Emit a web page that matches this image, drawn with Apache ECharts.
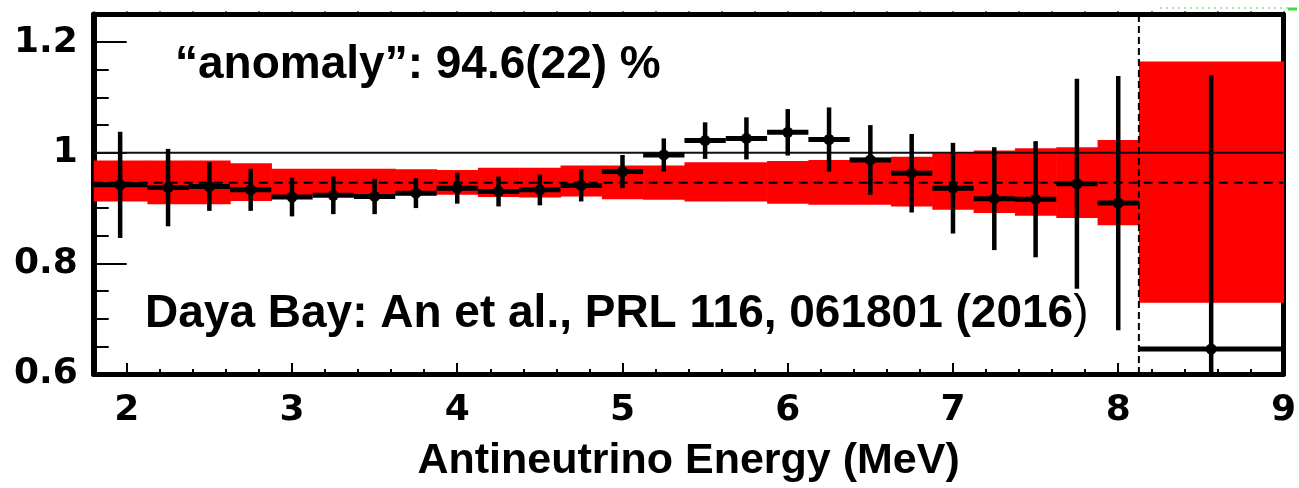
<!DOCTYPE html>
<html>
<head>
<meta charset="utf-8">
<script src="https://cdn.jsdelivr.net/npm/echarts@6/dist/echarts.min.js"></script>
<style>
html, body { margin: 0; padding: 0; background: #fff; }
#chart { width: 1299px; height: 488px; }
</style>
</head>
<body>
<div id="chart"></div>
<script>
// Energy bins (MeV): lower and upper edges
const binLow  = [1.8, 2.125, 2.375, 2.625, 2.875, 3.125, 3.375, 3.625, 3.875, 4.125, 4.375, 4.625, 4.875,
                 5.125, 5.375, 5.625, 5.875, 6.125, 6.375, 6.625, 6.875, 7.125, 7.375, 7.625, 7.875, 8.125];
const binHigh = [2.125, 2.375, 2.625, 2.875, 3.125, 3.375, 3.625, 3.875, 4.125, 4.375, 4.625, 4.875, 5.125,
                 5.375, 5.625, 5.875, 6.125, 6.375, 6.625, 6.875, 7.125, 7.375, 7.625, 7.875, 8.125, 9.0];
// Bin centres (MeV)
const energy  = [1.96, 2.25, 2.5, 2.75, 3.0, 3.25, 3.5, 3.75, 4.0, 4.25, 4.5, 4.75, 5.0,
                 5.25, 5.5, 5.75, 6.0, 6.25, 6.5, 6.75, 7.0, 7.25, 7.5, 7.75, 8.0, 8.5625];
// Measured / predicted ratio and its uncertainty
const ratio    = [0.942, 0.937, 0.939, 0.933, 0.920, 0.923, 0.921, 0.927, 0.936, 0.930, 0.933, 0.941, 0.966,
                  0.996, 1.022, 1.026, 1.037, 1.024, 0.987, 0.963, 0.936, 0.917, 0.916, 0.944, 0.909, 0.645];
const ratioErr = [0.096, 0.070, 0.044, 0.038, 0.035, 0.034, 0.032, 0.027, 0.028, 0.027, 0.028, 0.029, 0.030,
                  0.030, 0.033, 0.038, 0.042, 0.058, 0.063, 0.071, 0.082, 0.093, 0.105, 0.190, 0.230, 0.495];
// Model uncertainty band per bin
const bandHigh = [0.986, 0.986, 0.986, 0.981, 0.971, 0.971, 0.971, 0.970, 0.969, 0.973, 0.973, 0.977, 0.977,
                  0.977, 0.983, 0.983, 0.985, 0.987, 0.991, 0.993, 0.999, 1.004, 1.008, 1.010, 1.023, 1.165];
const bandLow  = [0.912, 0.907, 0.907, 0.913, 0.923, 0.923, 0.923, 0.923, 0.924, 0.920, 0.919, 0.921, 0.916,
                  0.915, 0.912, 0.912, 0.908, 0.906, 0.906, 0.903, 0.897, 0.891, 0.886, 0.882, 0.869, 0.729];
// Reference levels
const unity = 1.0;
const anomalyRatio = 0.946;
const splitEnergy = 8.125;
// Axis ticks
const xTickLabels = [2, 3, 4, 5, 6, 7, 8, 9];
const yTickLabels = [0.6, 0.8, 1.0, 1.2];
const xRange = [1.8, 9];
const yRange = [0.6, 1.25];

const xMinorTicks = [];
for (let k = 20; k <= 90; k += 2) xMinorTicks.push(k / 10);
const yMinorTicks = [];
for (let k = 12; k <= 25; k += 1) yMinorTicks.push(k / 20);

const bandData = binLow.map((lo, i) => [lo, binHigh[i], bandLow[i], bandHigh[i]]);
const pointData = energy.map((e, i) => [e, ratio[i], ratioErr[i], binLow[i], binHigh[i]]);

const chart = echarts.init(document.getElementById('chart'), null, { renderer: 'canvas' });

const boldSans = '"Liberation Sans", Arial, Helvetica, sans-serif';
const tickFont = '"DejaVu Sans", sans-serif';

const frameAxis = (extra) => Object.assign({
  type: 'value', min: xRange[0], max: xRange[1],
  splitLine: { show: false }, axisLabel: { show: false }
}, extra);

const option = {
  animation: false,
  backgroundColor: '#fff',
  grid: { left: 93.7, right: 5, top: 14.5, bottom: 110.3, containLabel: false },
  xAxis: [
    frameAxis({
      position: 'bottom',
      axisLine: { show: true, onZero: false, lineStyle: { color: '#000', width: 5 } },
      axisTick: { show: true, inside: true, length: 11, customValues: xTickLabels, lineStyle: { color: '#000', width: 2 } },
      axisLabel: { show: true, customValues: xTickLabels, margin: 19, color: '#000',
                   fontFamily: tickFont, fontWeight: 'bold', fontSize: 36 },
      name: 'Antineutrino Energy (MeV)', nameLocation: 'middle', nameGap: 66,
      nameTextStyle: { color: '#000', fontFamily: boldSans, fontWeight: 'bold', fontSize: 43 }
    }),
    frameAxis({
      position: 'bottom',
      axisLine: { show: false },
      axisTick: { show: true, inside: true, length: 5, customValues: xMinorTicks, lineStyle: { color: '#000', width: 2 } }
    }),
    frameAxis({
      position: 'top',
      axisLine: { show: true, onZero: false, lineStyle: { color: '#000', width: 5 } },
      axisTick: { show: true, inside: false, length: 3, customValues: xMinorTicks, lineStyle: { color: '#000', width: 2 } }
    })
  ],
  yAxis: [
    {
      type: 'value', min: yRange[0], max: yRange[1], position: 'left',
      splitLine: { show: false },
      axisLine: { show: true, onZero: false, lineStyle: { color: '#000', width: 6 } },
      axisTick: { show: true, inside: true, length: 33, customValues: yTickLabels, lineStyle: { color: '#000', width: 2 } },
      axisLabel: { show: true, customValues: yTickLabels, margin: 16, color: '#000',
                   fontFamily: tickFont, fontWeight: 'bold', fontSize: 36, padding: [6, 0, 0, 0],
                   formatter: v => String(Math.round(v * 10) / 10) }
    },
    {
      type: 'value', min: yRange[0], max: yRange[1], position: 'left',
      splitLine: { show: false }, axisLine: { show: false }, axisLabel: { show: false },
      axisTick: { show: true, inside: true, length: 15, customValues: yMinorTicks, lineStyle: { color: '#000', width: 2 } }
    },
    {
      type: 'value', min: yRange[0], max: yRange[1], position: 'right',
      splitLine: { show: false }, axisLabel: { show: false }, axisTick: { show: false },
      axisLine: { show: true, onZero: false, lineStyle: { color: '#000', width: 5 } }
    }
  ],
  series: [
    {
      // model uncertainty band
      type: 'custom', name: 'band', xAxisIndex: 0, yAxisIndex: 0, z: 1,
      data: bandData,
      renderItem(params, api) {
        const p0 = api.coord([api.value(0), api.value(3)]);
        const p1 = api.coord([api.value(1), api.value(2)]);
        return {
          type: 'rect',
          shape: { x: p0[0], y: p0[1], width: p1[0] - p0[0] + 0.6, height: p1[1] - p0[1] },
          style: { fill: '#ff0000' }
        };
      }
    },
    {
      type: 'line', name: 'unity', xAxisIndex: 0, yAxisIndex: 0, z: 3,
      data: [[xRange[0], unity], [xRange[1], unity]],
      showSymbol: false, symbol: 'none', silent: true,
      lineStyle: { color: '#111', width: 2 }
    },
    {
      type: 'line', name: 'anomaly', xAxisIndex: 0, yAxisIndex: 0, z: 3,
      data: [[xRange[0], anomalyRatio], [xRange[1], anomalyRatio]],
      showSymbol: false, symbol: 'none', silent: true,
      lineStyle: { color: '#000', width: 2, type: [9, 6] }
    },
    {
      type: 'line', name: 'split', xAxisIndex: 0, yAxisIndex: 0, z: 3,
      data: [[splitEnergy, yRange[0]], [splitEnergy, yRange[1]]],
      showSymbol: false, symbol: 'none', silent: true,
      lineStyle: { color: '#000', width: 2, type: [7, 4] }
    },
    {
      // data points with error bars spanning the bin
      type: 'custom', name: 'data', xAxisIndex: 0, yAxisIndex: 0, z: 5,
      data: pointData,
      renderItem(params, api) {
        const x = api.value(0), v = api.value(1), err = api.value(2);
        const lo = Math.max(api.value(3), xRange[0]), hi = Math.min(api.value(4), xRange[1]);
        const c = api.coord([x, v]);
        const top = api.coord([x, Math.min(v + err, yRange[1])]);
        const bot = api.coord([x, Math.max(v - err, yRange[0])]);
        const l = api.coord([lo, v]);
        const r = api.coord([hi, v]);
        return {
          type: 'group',
          children: [
            { type: 'line', shape: { x1: l[0], y1: l[1], x2: r[0], y2: r[1] }, style: { stroke: '#000', lineWidth: 5 } },
            { type: 'line', shape: { x1: top[0], y1: top[1], x2: bot[0], y2: bot[1] }, style: { stroke: '#000', lineWidth: 4.5 } },
            { type: 'circle', shape: { cx: c[0], cy: c[1], r: 5.5 }, style: { fill: '#000' } }
          ]
        };
      }
    }
  ],
  graphic: [
    {
      type: 'text', left: 175, top: 42, z: 10,
      style: { text: '“anomaly”: 94.6(22) %', font: 'bold 46px ' + boldSans, fill: '#000' }
    },
    {
      type: 'text', left: 145, top: 291, z: 10,
      style: {
        text: '{b|Daya Bay: An et al., PRL 116, 061801 (2016}{n|)}',
        rich: {
          b: { font: 'bold 46px ' + boldSans, fill: '#000' },
          n: { font: 'normal 46px ' + boldSans, fill: '#000' }
        }
      }
    },
    {
      type: 'line', z: 10, silent: true,
      shape: { x1: 1160, y1: 8, x2: 1288, y2: 8 },
      style: { stroke: '#a8e8a8', lineWidth: 2, lineDash: [2, 4] }
    },
    {
      type: 'line', z: 10, silent: true,
      shape: { x1: 1288, y1: 9, x2: 1297, y2: 9 },
      style: { stroke: '#3ddc3d', lineWidth: 3 }
    }
  ]
};

chart.setOption(option);
</script>
</body>
</html>
